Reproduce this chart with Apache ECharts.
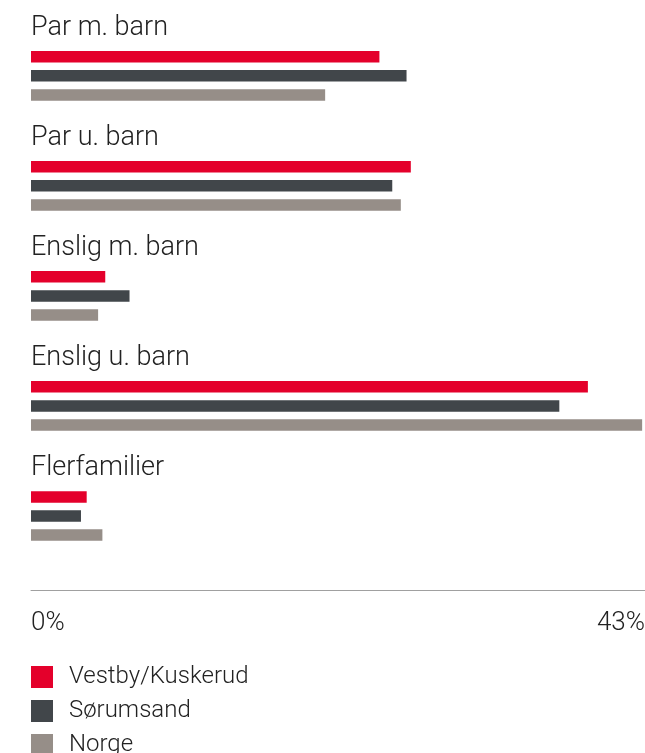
<!DOCTYPE html>
<html>
<head>
<meta charset="utf-8">
<script src="https://cdn.jsdelivr.net/npm/echarts@6/dist/echarts.min.js"></script>
<style>
html,body{margin:0;padding:0;background:#fff;overflow:hidden;}
#chart{width:645px;height:800px;}
</style>
</head>
<body>
<div id="chart"></div>
<script>
var categories = ['Par m. barn', 'Par u. barn', 'Enslig m. barn', 'Enslig u. barn', 'Flerfamilier'];
var seriesNames = ['Vestby/Kuskerud', 'Sørumsand', 'Norge'];
var vestby = [24.4, 26.6, 5.2, 39.0, 3.9];
var sorumsand = [26.3, 25.3, 6.9, 37.0, 3.5];
var norge = [20.6, 25.9, 4.7, 42.8, 5.0];
var axisMin = 0;
var axisMax = 43;

var colors = ['#E4002B', '#41464A', '#968E88'];
var font = 'Roboto';

var chart = echarts.init(document.getElementById('chart'));
chart.setOption({
  animation: false,
  color: colors,
  grid: { left: 31, right: 0, top: 20.8, height: 550.2, containLabel: false, outerBoundsMode: 'none' },
  legend: {
    orient: 'vertical',
    left: 31,
    top: 665,
    padding: 0,
    icon: 'rect',
    itemWidth: 22,
    itemHeight: 22,
    itemGap: 10,
    selectedMode: false,
    textStyle: { fontFamily: font, fontWeight: 300, fontSize: 24, color: '#222', lineHeight: 22, padding: [0, 0, 0, 11] },
    data: seriesNames
  },
  xAxis: {
    type: 'value',
    min: axisMin,
    max: axisMax,
    interval: axisMax - axisMin,
    offset: 19,
    axisLine: { show: true, lineStyle: { color: '#a0a0a0', width: 1 } },
    axisTick: { show: false },
    splitLine: { show: false },
    axisLabel: {
      formatter: '{value}%',
      margin: 20,
      fontFamily: font, fontWeight: 300, fontSize: 26, color: '#222',
      alignMinLabel: 'left', alignMaxLabel: 'right'
    }
  },
  yAxis: {
    type: 'category',
    inverse: true,
    data: categories,
    axisLine: { show: false },
    axisTick: { show: false },
    splitLine: { show: false },
    axisLabel: {
      inside: true,
      interval: 0,
      hideOverlap: false,
      margin: 0,
      align: 'left',
      verticalAlign: 'middle',
      lineHeight: 95.6,
      formatter: function (v) { return v + '\n '; },
      fontFamily: font, fontWeight: 300, fontSize: 27, color: '#222'
    }
  },
  series: [
    { name: seriesNames[0], type: 'bar', data: vestby, barWidth: 11.5, barGap: '66%' },
    { name: seriesNames[1], type: 'bar', data: sorumsand, barWidth: 11.5, barGap: '66%' },
    { name: seriesNames[2], type: 'bar', data: norge, barWidth: 11.5, barGap: '66%' }
  ]
});
</script>
</body>
</html>
